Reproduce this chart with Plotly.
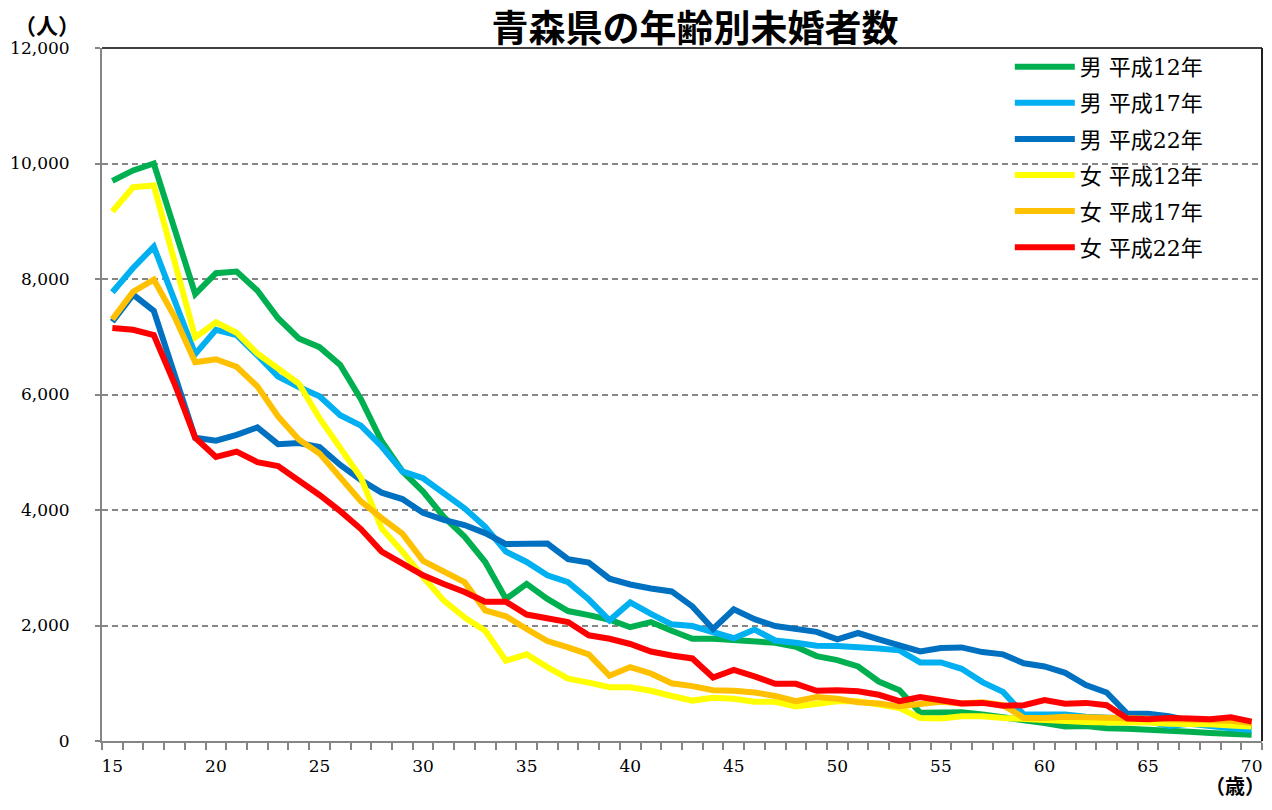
import plotly.graph_objects as go

ages = list(range(15, 71))

series_names = ["男 平成12年", "男 平成17年", "男 平成22年", "女 平成12年", "女 平成17年", "女 平成22年"]
series_colors = ["#00B050", "#00B0F0", "#0070C0", "#FFFF00", "#FFC000", "#FF0000"]

male_h12 = [9700, 9880, 10000, 8870, 7740, 8100, 8130, 7800, 7320, 6970,
            6820, 6510, 5920, 5190, 4670, 4320, 3880, 3540, 3100, 2460,
            2720, 2460, 2250, 2180, 2100, 1970, 2060, 1910, 1770, 1770,
            1750, 1730, 1700, 1630, 1470, 1400, 1290, 1030, 880, 490,
            500, 500, 460, 420, 360, 310, 250, 260, 220, 210,
            200, 180, 160, 140, 120, 110]
male_h17 = [7770, 8190, 8560, 7640, 6700, 7120, 7030, 6680, 6310, 6130,
            5970, 5640, 5460, 5100, 4670, 4550, 4290, 4030, 3710, 3280,
            3100, 2870, 2750, 2450, 2090, 2400, 2200, 2020, 1990, 1890,
            1780, 1930, 1740, 1700, 1650, 1645, 1630, 1600, 1570, 1360,
            1360, 1250, 1020, 850, 460, 460, 460, 420, 400, 390,
            340, 260, 300, 250, 220, 190]
male_h22 = [7260, 7730, 7450, 6360, 5250, 5200, 5300, 5430, 5140, 5160,
            5090, 4780, 4520, 4300, 4190, 3950, 3830, 3740, 3600, 3410,
            3410, 3420, 3150, 3090, 2810, 2710, 2640, 2590, 2330, 1940,
            2280, 2110, 1990, 1940, 1890, 1760, 1870, 1760, 1660, 1550,
            1610, 1620, 1540, 1500, 1345, 1290, 1180, 970, 840, 470,
            470, 430, 350, 320, 290, 260]
female_h12 = [9170, 9590, 9620, 8300, 6990, 7250, 7070, 6710, 6450, 6190,
              5590, 5070, 4560, 3680, 3280, 2840, 2430, 2140, 1910, 1390,
              1500, 1280, 1080, 1010, 930, 930, 870, 780, 700, 750,
              730, 680, 680, 600, 650, 690, 690, 640, 570, 400,
              390, 430, 430, 400, 380, 350, 340, 330, 320, 330,
              320, 300, 300, 290, 270, 250]
female_h17 = [7300, 7780, 7990, 7350, 6560, 6610, 6480, 6140, 5620, 5220,
              4980, 4550, 4150, 3860, 3590, 3120, 2930, 2750, 2260, 2160,
              1940, 1730, 1620, 1500, 1130, 1280, 1170, 1000, 950, 880,
              870, 840, 780, 690, 760, 730, 670, 650, 600, 640,
              680, 650, 670, 620, 400, 400, 420, 410, 400, 390,
              380, 390, 380, 360, 350, 310]
female_h22 = [7150, 7120, 7030, 6190, 5250, 4920, 5010, 4830, 4760, 4520,
              4260, 3980, 3670, 3280, 3070, 2870, 2720, 2580, 2410, 2410,
              2190, 2120, 2060, 1830, 1770, 1680, 1550, 1480, 1430, 1100,
              1230, 1120, 990, 990, 870, 880, 860, 800, 690, 760,
              710, 650, 660, 610, 620, 710, 645, 660, 620, 390,
              375, 400, 390, 375, 410, 335]

all_series = [male_h12, male_h17, male_h22, female_h12, female_h17, female_h22]

x_tick_vals = [15, 20, 25, 30, 35, 40, 45, 50, 55, 60, 65, 70]
y_tick_vals = [0, 2000, 4000, 6000, 8000, 10000, 12000]

serif = "DejaVu Serif, Noto Sans CJK JP"
gothic = "Noto Sans CJK JP, Noto Sans"

fig = go.Figure()
for i, (name, color, vals) in enumerate(zip(series_names, series_colors, all_series)):
    fig.add_trace(go.Scatter(
        x=ages, y=vals, name=name, mode="lines",
        line=dict(color=color, width=6),
        legendgroup=f"g{i}",
    ))

fig.update_layout(
    width=1256, height=794,
    paper_bgcolor="white", plot_bgcolor="white",
    margin=dict(l=90, r=2, t=40, b=61),
    showlegend=True,
    legend=dict(
        x=0.7826, y=1.003, xanchor="left", yanchor="top",
        bgcolor="rgba(0,0,0,0)", borderwidth=0,
        font=dict(family=serif, size=22, color="black"),
        tracegroupgap=4.5, itemwidth=60,
    ),
    title=dict(
        text="<b>青森県の年齢別未婚者数</b>",
        font=dict(family=gothic, size=37, color="black"),
        x=0.547, xanchor="center", xref="container",
        y=0.973, yanchor="middle", yref="container",
    ),
    xaxis=dict(
        range=[14.5, 70.5], showgrid=False, zeroline=False,
        tickmode="array", tickvals=x_tick_vals, ticktext=[str(v) for v in x_tick_vals],
        ticks="", showline=True, linecolor="#868686", linewidth=2,
        tickfont=dict(family=serif, size=17, color="black"),
        ticklabelstandoff=9,
        minor=dict(tickmode="array", tickvals=[a - 0.5 for a in ages] + [70.5],
                   ticks="outside", ticklen=7, tickcolor="#868686", tickwidth=1.5,
                   showgrid=False),
    ),
    yaxis=dict(
        range=[0, 12000], tickmode="array", tickvals=y_tick_vals,
        tickformat=",", showgrid=True, gridcolor="#868686", gridwidth=1.5,
        griddash="6px,4px", zeroline=False,
        ticks="outside", ticklen=5, tickcolor="#868686", tickwidth=1.5,
        showline=True, linecolor="#868686", linewidth=2,
        tickfont=dict(family=serif, size=17, color="black"),
        ticklabelstandoff=22,
    ),
)

# legend background area masking the grid line (as in the reference)
fig.add_shape(type="rect", xref="paper", yref="paper", x0=0.745, x1=0.993, y0=0.80, y1=0.86,
              fillcolor="white", line=dict(width=0), layer="between")
# plot border (top and right)
fig.add_shape(type="line", xref="paper", yref="paper", x0=0, x1=1, y0=1, y1=1,
              line=dict(color="#404040", width=2), layer="below")
fig.add_shape(type="line", xref="paper", yref="paper", x0=1, x1=1, y0=0, y1=1,
              line=dict(color="#202020", width=2), layer="below")

fig.add_annotation(text="<b>（人）</b>", xref="paper", yref="paper",
                   x=0, y=1.0, xanchor="left", yanchor="bottom", yshift=6, xshift=-90,
                   showarrow=False, font=dict(family=gothic, size=22, color="black"))
fig.add_annotation(text="<b>（歳）</b>", xref="paper", yref="paper",
                   x=1.0, y=0, xanchor="right", yanchor="bottom", yshift=-61, xshift=5,
                   showarrow=False, font=dict(family=gothic, size=20, color="black"))

fig.write_html("out.html")
